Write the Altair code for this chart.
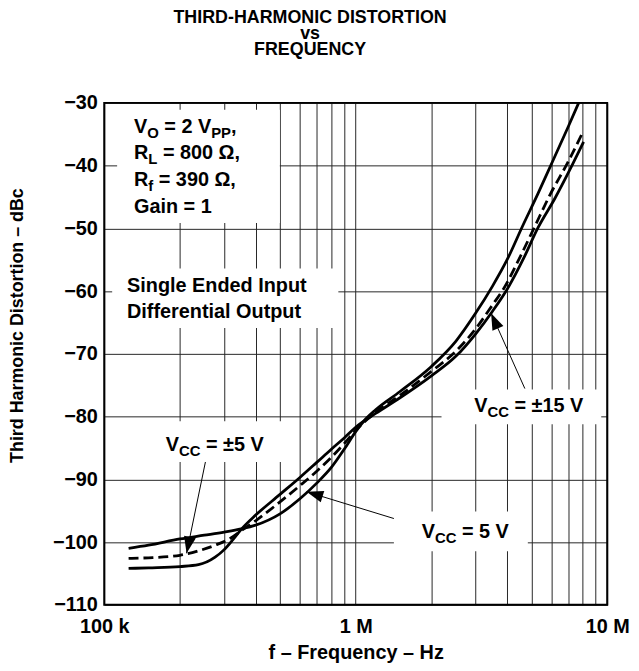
import altair as alt
import pandas as pd
import numpy as np

# ---------------- data (frequency in MHz, distortion in dBc) ----------------
freq_5v = [0.125, 0.15, 0.2, 0.25, 0.3, 0.35, 0.4, 0.5, 0.6, 0.7, 0.8, 0.9, 1.0, 1.1,
           1.2, 1.5, 2.0, 2.5, 3.0, 3.5, 4.0, 4.6, 5.3, 6.07, 7.0, 7.7]
thd_5v = [-101.0, -100.5, -99.5, -98.9, -98.4, -97.9, -97.3, -95.5, -93.1, -90.6, -88.1, -85.2, -82.4, -80.3,
          -78.9, -76.0, -72.0, -68.0, -63.5, -59.2, -55.0, -49.7, -44.5, -39.3, -33.8, -30.0]

freq_pm5 = [0.125, 0.15, 0.2, 0.237, 0.276, 0.32, 0.35, 0.4, 0.5, 0.6, 0.7, 0.8, 0.9, 1.0,
            1.2, 1.5, 2.0, 2.5, 3.0, 3.5, 3.89, 4.45, 5.11, 5.95, 6.95, 7.97]
thd_pm5 = [-102.6, -102.5, -102.1, -101.4, -100.5, -99.3, -98.2, -96.6, -93.6, -91.0, -88.7, -86.5, -84.3, -82.2,
           -79.3, -76.6, -72.8, -69.6, -66.0, -62.2, -59.5, -55.0, -50.0, -44.5, -39.6, -34.8]

freq_pm15 = [0.125, 0.15, 0.2, 0.237, 0.276, 0.3, 0.325, 0.35, 0.4, 0.5, 0.6, 0.7, 0.8, 0.9, 1.0,
             1.2, 1.5, 2.0, 2.5, 3.0, 3.5, 4.07, 4.65, 5.29, 6.2, 7.28, 8.06]
thd_pm15 = [-104.2, -104.1, -103.9, -103.6, -102.4, -101.2, -99.6, -98.0, -95.7, -92.4, -89.7, -87.3, -85.2, -83.4, -81.7,
            -79.5, -77.0, -73.5, -70.4, -66.8, -63.2, -59.2, -54.8, -50.0, -45.2, -39.8, -36.2]

x_label_values = [1e5, 1e6, 1e7]
x_label_texts = ["100 k", "1 M", "10 M"]
x_grid_values = [m * 10 ** e for e in (5, 6) for m in range(1, 10)] + [10 ** 7]
y_tick_values = list(range(-110, -29, 10))

title_lines = ["THIRD-HARMONIC DISTORTION", "vs", "FREQUENCY"]
x_title = "f \u2013 Frequency \u2013 Hz"
y_title = "Third Harmonic Distortion \u2013 dBc"

# ---------------- geometry helpers ----------------
W, H = 507, 506
XMIN, XMAX = 1e5, 1e7
YMIN, YMAX = -110, -30
LEFT, TOP = 105, 101          # page position of plot origin (used to read annotation spots)
DEC = np.log10(XMAX / XMIN)


def px_to_f(px):
    return float(XMIN * 10 ** ((px - LEFT) / W * DEC))


def py_to_db(py):
    return float(YMAX - (py - TOP) / H * (YMAX - YMIN))


FONT = "Liberation Sans, Arial, Helvetica, sans-serif"
FS, FS_SUB, SUB_DY = 20, 15, 5
CW = {' ': .278, ',': .278, '=': .584, 'V': .667, 'O': .778, 'P': .667, 'R': .722, 'L': .611,
      'C': .722, 'G': .778, 'a': .556, 'i': .278, 'n': .611, 'f': .333, '\u03a9': .768, '\u00b1': .584}
for d in "0123456789":
    CW[d] = .556


def layout(segments, left, base):
    rows = []
    cur = left
    for txt, sub in segments:
        fs = FS_SUB if sub else FS
        lead = len(txt) - len(txt.lstrip(' '))
        cur += lead * CW[' '] * fs
        body = txt.strip(' ')
        rows.append({"f": px_to_f(cur), "db": py_to_db(base + (SUB_DY if sub else 0)),
                     "text": body, "sub": sub})
        cur += sum(CW.get(c, .6) for c in body) * fs
        trail = len(txt) - len(txt.rstrip(' '))
        cur += trail * CW[' '] * fs
    return rows


ann_rows = []
ann_rows += layout([("V", False), ("O", True), (" = 2 V", False), ("PP", True), (",", False)], 135, 131)
ann_rows += layout([("R", False), ("L", True), (" = 800 \u03a9,", False)], 135, 158)
ann_rows += layout([("R", False), ("f", True), (" = 390 \u03a9,", False)], 135, 185)
ann_rows += layout([("Gain = 1", False)], 135, 212)
ann_rows += layout([("Single Ended Input", False)], 128, 292)
ann_rows += layout([("Differential Output", False)], 128, 318)
ann_rows += layout([("V", False), ("CC", True), (" = \u00b15 V", False)], 167, 452)
ann_rows += layout([("V", False), ("CC", True), (" = \u00b115 V", False)], 478, 413)
ann_rows += layout([("V", False), ("CC", True), (" = 5 V", False)], 425, 540)
ann = pd.DataFrame(ann_rows)
ann_main = ann[~ann["sub"]].drop(columns="sub")
ann_sub = ann[ann["sub"]].drop(columns="sub")

# white boxes behind annotations (interrupt grid lines)
boxes_px = [(118, 282, 108, 222), (113, 341, 268, 328), (158, 292, 422, 463),
            (445, 606, 390, 425), (397, 532, 513, 553)]
boxes = pd.DataFrame([{"f": px_to_f(a), "f2": px_to_f(b), "db": py_to_db(c), "db2": py_to_db(d)}
                      for a, b, c, d in boxes_px])

# arrows: tail -> tip
arrows_px = [(207, 463, 188, 555), (397, 520, 309, 493), (529, 389, 495, 313)]
arr_rows = []
for tx, ty, hx, hy in arrows_px:
    ang = (np.degrees(np.arctan2(hx - tx, -(hy - ty)))) % 360
    arr_rows.append({"f": px_to_f(hx), "db": py_to_db(hy), "f2": px_to_f(tx), "db2": py_to_db(ty),
                     "angle": float(ang)})
arrows = pd.DataFrame(arr_rows)


def mk(freqs, vals, name):
    return pd.DataFrame({"f": [v * 1e6 for v in freqs], "db": vals, "series": name,
                         "i": range(len(freqs))})


solid = pd.concat([mk(freq_5v, thd_5v, "VCC = 5 V"), mk(freq_pm15, thd_pm15, "VCC = \u00b115 V")])
dashed = mk(freq_pm5, thd_pm5, "VCC = \u00b15 V")

xs = alt.Scale(type="log", domain=[XMIN, XMAX], nice=False)
ys = alt.Scale(domain=[YMIN, YMAX], nice=False, zero=False)

label_expr = " : ".join(
    f"abs(datum.value - {v}) < 1 ? '{t}'" for v, t in zip(x_label_values, x_label_texts)) + " : ''"

GRID = "#262626"
x_axis = alt.Axis(values=x_grid_values, labelExpr=label_expr, grid=True, ticks=False, domain=False,
                  labelFont=FONT, labelFontSize=20, labelFontWeight="bold", labelColor="black",
                  labelPadding=12, labelOverlap=False, labelFlush=False,
                  title=x_title, titleFont=FONT, titleFontSize=20, titleFontWeight="bold",
                  titleColor="black", titleY=54, titleBaseline="alphabetic",
                  gridColor=GRID, gridWidth=1)
y_axis = alt.Axis(values=y_tick_values, format="d", grid=True, ticks=False, domain=False,
                  labelFont=FONT, labelFontSize=20, labelFontWeight="bold", labelColor="black",
                  labelPadding=7, labelOverlap=False,
                  title=y_title, titleFont=FONT, titleFontSize=18, titleFontWeight="bold",
                  titleColor="black", titleX=-87, titleY=224, titleBaseline="middle",
                  titleAlign="center", titleAngle=270,
                  gridColor=GRID, gridWidth=1)

X = alt.X("f:Q", scale=xs, axis=x_axis)
Y = alt.Y("db:Q", scale=ys, axis=y_axis)

# white boxes first (grid of the axes is drawn behind every mark)
box_layer = alt.Chart(boxes).mark_rect(fill="white").encode(x=X, x2="f2:Q", y=Y, y2="db2:Q")

solid_lines = alt.Chart(solid).mark_line(color="black", strokeWidth=2.8, interpolate="monotone").encode(
    x=X, y=Y, detail="series:N", order="i:Q")

dash_line = alt.Chart(dashed).mark_line(color="black", strokeWidth=2.8, strokeDash=[10, 5],
                                        interpolate="monotone").encode(x=X, y=Y, order="i:Q")

text_main = alt.Chart(ann_main).mark_text(align="left", baseline="alphabetic", font=FONT,
                                          fontSize=FS, fontWeight="bold", color="black").encode(
    x=X, y=Y, text="text:N")
text_sub = alt.Chart(ann_sub).mark_text(align="left", baseline="alphabetic", font=FONT,
                                        fontSize=FS_SUB, fontWeight="bold", color="black").encode(
    x=X, y=Y, text="text:N")

arrow_lines = alt.Chart(arrows).mark_rule(color="black", strokeWidth=1).encode(
    x=X, x2="f2:Q", y=Y, y2="db2:Q")
arrow_heads = alt.Chart(arrows).mark_point(shape="M0,0L-0.9,2.5L0.9,2.5Z", filled=True, size=180,
                                           color="black", opacity=1, strokeWidth=0).encode(
    x=X, y=Y, angle=alt.Angle("angle:Q", scale=None))

border = alt.Chart(pd.DataFrame({"k": [0]})).mark_rect(fillOpacity=0, stroke="black", strokeWidth=2).encode(
    x=alt.value(0), x2=alt.value(W), y=alt.value(0), y2=alt.value(H),
)

chart = alt.layer(box_layer, dash_line, solid_lines, text_main, text_sub,
                  arrow_lines, arrow_heads, border).properties(
    width=W, height=H,
    autosize=alt.AutoSizeParams(type="none"),
    padding={"left": 97, "top": 93, "right": 24, "bottom": 56},
    title=alt.TitleParams(title_lines, font=FONT, fontSize=18, fontWeight="bold", color="black",
                          lineHeight=16.5, anchor="middle", dx=-46, offset=34),
).configure_view(stroke=None)

chart.save("out.html", embed_options={"renderer": "svg", "actions": False})
